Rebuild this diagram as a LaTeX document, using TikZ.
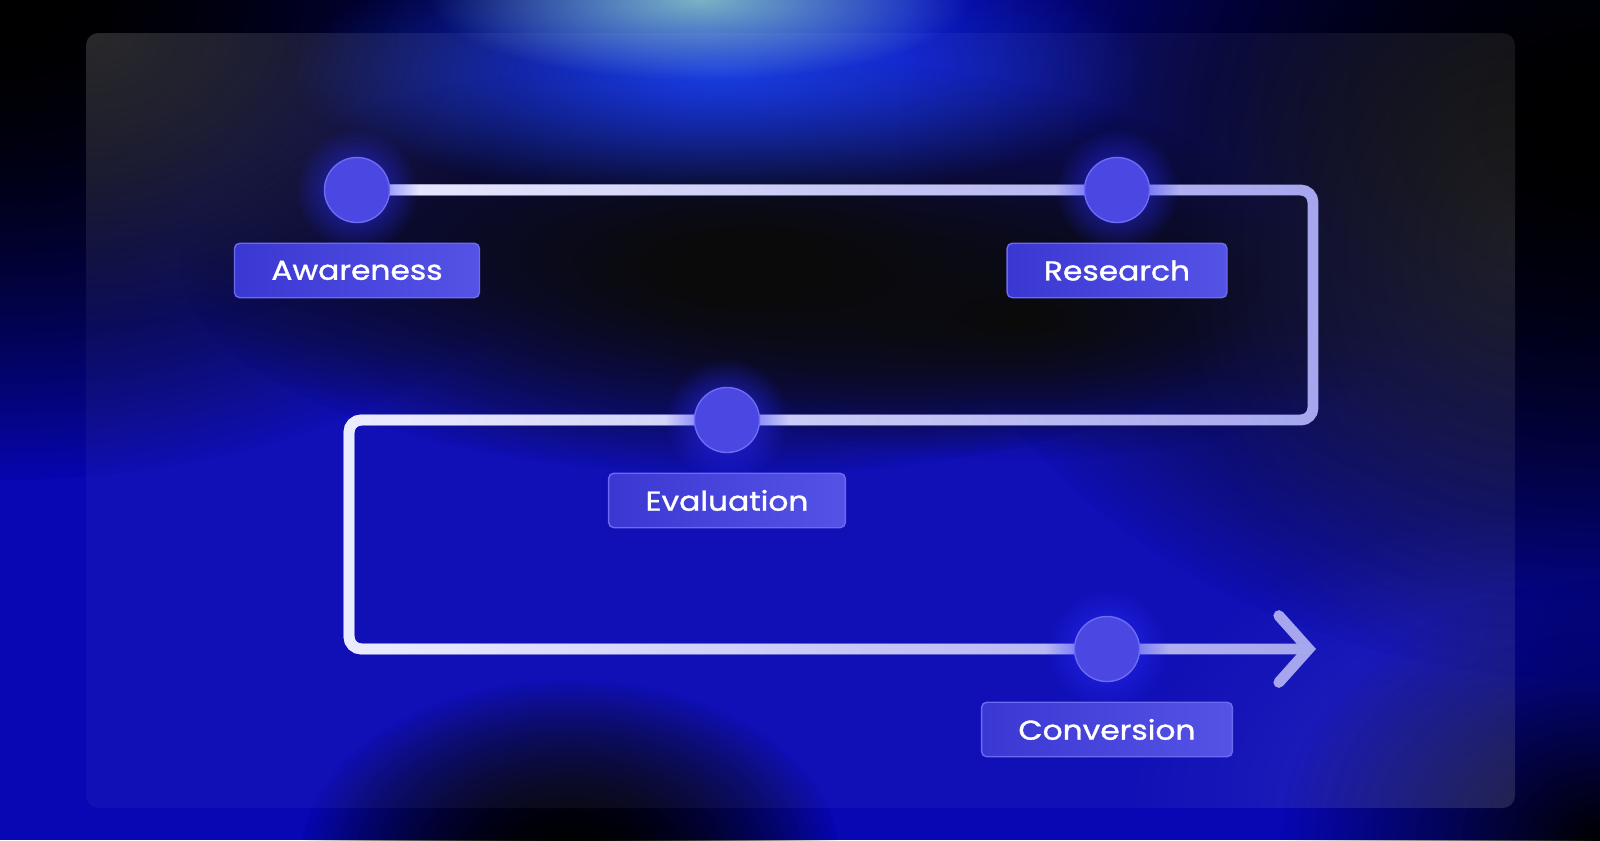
\documentclass[tikz,border=0pt]{standalone}
\usepackage{fontspec}
\newfontfamily\labelfont[FakeStretch=1.15,FakeBold=1.2]{Poppins}
\usepackage{tikz}
\usepackage{xcolor}
\usetikzlibrary{positioning}
\usetikzlibrary{fadings}
\usetikzlibrary{arrows.meta}
\definecolor{dotblue}{HTML}{4A47E3}
\definecolor{dotedge}{HTML}{6E6CF2}
\definecolor{lblleft}{HTML}{3A38D2}
\definecolor{lblright}{HTML}{5553E6}
\definecolor{lbledge}{HTML}{6B6AF0}
\definecolor{trackwhite}{HTML}{ECECFF}
\definecolor{tracklav}{HTML}{A6A6EE}
\definecolor{glowblue}{HTML}{2A2AFF}
\definecolor{deepblue}{HTML}{0707B4}
\definecolor{skyblue}{HTML}{1036E0}
\definecolor{cyanglow}{HTML}{7AB4C4}
\pgfdeclarelayer{backdrop}
\pgfdeclarelayer{track}
\pgfsetlayers{backdrop,track,main}
\tikzfading[name=softblob, inner color=transparent!0, outer color=transparent!100]
\tikzfading[name=faderight, left color=transparent!0, right color=transparent!100]
\tikzset{stepdot/.style={circle,minimum size=37pt,inner sep=0pt,fill=dotblue,draw=dotedge,line width=0.8pt},
 steplabel/.style={rectangle,rounded corners=3pt,left color=lblleft,right color=lblright,
  draw=lbledge,line width=0.8pt,minimum height=31pt,inner xsep=21pt,text=white,
  font=\labelfont\fontsize{15.5}{18}\selectfont},
 track/.style={line width=6.2pt,rounded corners=7pt,line cap=round},
 blob/.style={path fading=softblob},
 }

\begin{document}
\begin{tikzpicture}[x=0.02cm,y=-0.02cm]
    \useasboundingbox (0,0) rectangle (1600,840);
    % steps
    \node[stepdot] (aware) at (357,190) {};
    \node[stepdot] (research) at (1117,190) {};
    \node[stepdot] (eval) at (727,420) {};
    \node[stepdot] (convert) at (1107,649) {};
    \node[steplabel, below=11pt of aware] (awarelbl) {Awareness};
    \node[steplabel, below=11pt of research] (researchlbl) {Research};
    \node[steplabel, below=11pt of eval] (evallbl) {Evaluation};
    \node[steplabel, below=11pt of convert] (convertlbl) {Conversion};
    \coordinate (topright) at (1313,190);
    \coordinate (midleft) at (349,420);
    \coordinate (arrowtip) at (1316,649);
    % background glow
    \begin{pgfonlayer}{backdrop}
        \fill[deepblue] (0,0) rectangle (1600,840);
        \foreach \n in {1,2} {
            \fill[black, blob] (0,0) ellipse (700 and 480);
            \fill[black, blob] (1600,120) ellipse (700 and 560);
            \fill[black, blob] (740,265) ellipse (560 and 210);
            \fill[black, blob] (570,860) ellipse (270 and 180);
        }
        \fill[black, blob] (1020,320) ellipse (380 and 140);
        \fill[black, blob] (1600,840) ellipse (320 and 260);
        \fill[skyblue, blob] (720,70) ellipse (430 and 130);
        \fill[cyanglow, blob] (700,0) ellipse (270 and 80);
        % glass panel
        \fill[white, fill opacity=0.04, rounded corners=7pt] (86,33) rectangle (1515,808);
        \begin{scope}
            \clip[rounded corners=7pt] (86,33) rectangle (1515,808);
            \fill[white, blob, opacity=0.13] (86,33) ellipse (450 and 300);
            \fill[white, blob, opacity=0.08] (1515,250) ellipse (350 and 450);
            \fill[white, blob, opacity=0.10] (1515,808) ellipse (400 and 300);
        \end{scope}
    \end{pgfonlayer}
    % path
    \begin{pgfonlayer}{track}
        \draw[track, tracklav, -{Straight Barb[length=17pt,width=38pt,line cap=round]},
            postaction={draw, -, trackwhite, path fading=faderight}]
            (aware.center) -- (topright) |- (eval.center) -- (midleft) |- (arrowtip);
        \foreach \s in {aware,research,eval,convert}
            \fill[glowblue, blob, opacity=0.8] (\s.center) circle (62);
    \end{pgfonlayer}
\end{tikzpicture}
\end{document}
